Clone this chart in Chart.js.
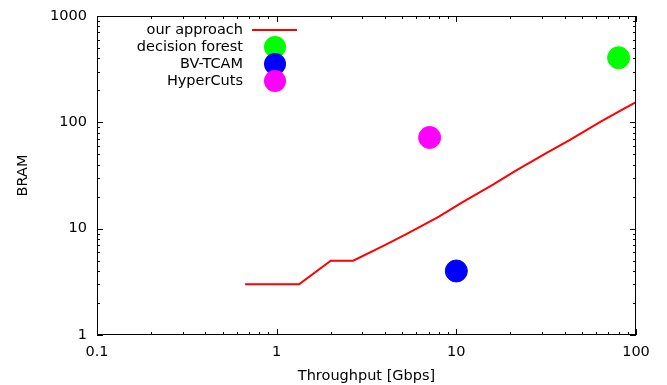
<!DOCTYPE html>
<html>
<head>
<meta charset="utf-8">
<script src="https://cdn.jsdelivr.net/npm/chart.js@4/dist/chart.umd.min.js"></script>
<style>
  html, body { margin: 0; padding: 0; background: #fff; }
  #wrap { width: 667px; height: 385px; }
</style>
</head>
<body>
<div id="wrap"><canvas id="bram"></canvas></div>
<script>
// our approach: throughput [Gbps] vs BRAM
const approachX = [0.667, 1.333, 2, 2.667, 4, 5.333, 8, 10.667, 16, 21.333, 32, 42.667, 64, 85.333, 100];
const approachY = [3, 3, 5, 5, 7, 9, 13, 17.5, 26, 35, 52, 68, 102, 134, 155];

const others = ['decision forest', 'BV-TCAM', 'HyperCuts'];
const othersX = [80, 10, 7.1];
const othersY = [405, 4, 72];
const othersColor = ['#00ff00', '#0000ff', '#ff00ff'];

const xTickLabels = [0.1, 1, 10, 100];
const yTickLabels = [1, 10, 100, 1000];

const FONT = '"DejaVu Sans", sans-serif';
const SIZE = 14.5;

function logTicks(min, max) {
  const out = [];
  for (let d = min; d < max; d *= 10) {
    for (let k = 1; k < 10; k++) out.push(+(d * k).toPrecision(3));
  }
  out.push(max);
  return out;
}

const datasets = [{
  label: 'our approach',
  type: 'line',
  data: approachX.map((x, i) => ({ x: x, y: approachY[i] })),
  borderColor: '#ff0000',
  borderWidth: 2,
  pointRadius: 0,
  fill: false,
  tension: 0
}];
others.forEach((name, i) => {
  datasets.push({
    label: name,
    type: 'scatter',
    data: [{ x: othersX[i], y: othersY[i] }],
    backgroundColor: othersColor[i],
    borderColor: othersColor[i],
    pointRadius: 11,
    pointHoverRadius: 11
  });
});

// gnuplot-like frame with inward ticks on all sides
const frame = {
  id: 'frame',
  afterDatasetsDraw(chart) {
    const { ctx, chartArea: a, scales } = chart;
    ctx.save();
    ctx.strokeStyle = '#000';
    ctx.lineWidth = 1;
    ctx.strokeRect(a.left + 0.5, a.top + 0.5, a.right - a.left - 1, a.bottom - a.top - 1);
    ctx.beginPath();
    scales.x.ticks.forEach(t => {
      const px = Math.round(scales.x.getPixelForValue(t.value)) + 0.5;
      const len = t.label ? 6 : 3;
      ctx.moveTo(px, a.bottom); ctx.lineTo(px, a.bottom - len);
      ctx.moveTo(px, a.top); ctx.lineTo(px, a.top + len);
    });
    scales.y.ticks.forEach(t => {
      const py = Math.round(scales.y.getPixelForValue(t.value)) + 0.5;
      const len = t.label ? 6 : 3;
      ctx.moveTo(a.left, py); ctx.lineTo(a.left + len, py);
      ctx.moveTo(a.right, py); ctx.lineTo(a.right - len, py);
    });
    ctx.stroke();

    // key, top left inside the plot
    ctx.font = SIZE + 'px ' + FONT;
    ctx.textAlign = 'right';
    ctx.textBaseline = 'middle';
    ctx.fillStyle = '#000';
    const rows = [datasets[0].label].concat(others);
    rows.forEach((name, i) => {
      const y = 30 + i * 17;
      ctx.fillText(name, 243, y);
      if (i === 0) {
        ctx.strokeStyle = '#ff0000';
        ctx.lineWidth = 2;
        ctx.beginPath();
        ctx.moveTo(252, y); ctx.lineTo(297, y);
        ctx.stroke();
      } else {
        ctx.fillStyle = othersColor[i - 1];
        ctx.beginPath();
        ctx.arc(275, y, 11, 0, Math.PI * 2);
        ctx.fill();
        ctx.fillStyle = '#000';
      }
    });
    ctx.restore();
  }
};

new Chart(document.getElementById('bram'), {
  data: { datasets: datasets },
  options: {
    responsive: true,
    maintainAspectRatio: false,
    animation: false,
    layout: { padding: { top: 16, right: 31, left: 0, bottom: 0 } },
    plugins: { legend: { display: false }, tooltip: { enabled: false } },
    scales: {
      x: {
        type: 'logarithmic',
        min: 0.1,
        max: 100,
        afterBuildTicks: s => { s.ticks = logTicks(0.1, 100).map(v => ({ value: v })); },
        afterFit: s => { s.height = 50; s.paddingLeft = 0; s.paddingRight = 0; },
        grid: { display: false, drawTicks: false },
        border: { display: false },
        ticks: {
          autoSkip: false,
          maxRotation: 0,
          padding: 9,
          color: '#000',
          font: { family: FONT, size: SIZE },
          callback: v => xTickLabels.includes(+(+v).toPrecision(3)) ? String(+(+v).toPrecision(3)) : ''
        },
        title: {
          display: true,
          text: 'Throughput [Gbps]',
          color: '#000',
          font: { family: FONT, size: SIZE },
          padding: { top: 4, bottom: 0 }
        }
      },
      y: {
        type: 'logarithmic',
        min: 1,
        max: 1000,
        afterBuildTicks: s => { s.ticks = logTicks(1, 1000).map(v => ({ value: v })); },
        afterFit: s => { s.width = 97; s.paddingTop = 0; s.paddingBottom = 0; },
        grid: { display: false, drawTicks: false },
        border: { display: false },
        ticks: {
          autoSkip: false,
          padding: 10,
          color: '#000',
          font: { family: FONT, size: SIZE },
          callback: v => yTickLabels.includes(+(+v).toPrecision(3)) ? String(+(+v).toPrecision(3)) : ''
        },
        title: {
          display: true,
          text: 'BRAM',
          color: '#000',
          font: { family: FONT, size: SIZE },
          padding: { top: 15, bottom: 0 }
        }
      }
    }
  },
  plugins: [frame]
});
</script>
</body>
</html>
